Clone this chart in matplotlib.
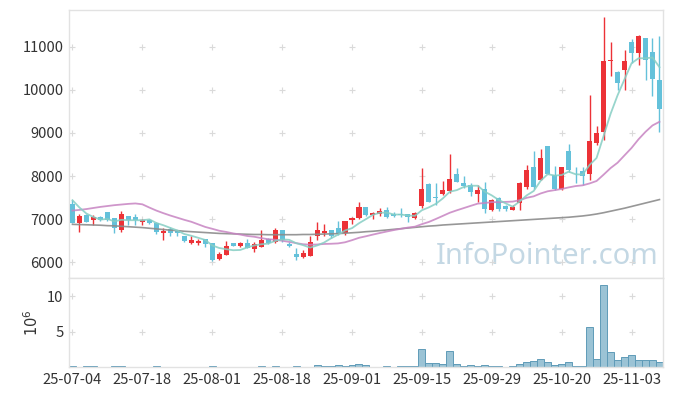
import matplotlib
matplotlib.use('Agg')
import matplotlib.pyplot as plt
import numpy as np

plt.rcParams['font.family'] = ['Noto Sans CJK KR', 'DejaVu Sans']

# daily OHLC (KRW), one row per trading day
opens = [7350, 6910, 7090, 6980, 7040, 7160, 7020, 6740, 7070, 7040,
         6940, 6990, 6920, 6680, 6770, 6730, 6610, 6440, 6450, 6530,
         6440, 6070, 6180, 6450, 6380, 6450, 6320, 6360, 6530, 6470,
         6740, 6420, 6190, 6120, 6150, 6610, 6680, 6740, 6800, 6670,
         6980, 7030, 7290, 7100, 7130, 7210, 7120, 7110, 7120, 7030,
         7300, 7810, 7510, 7580, 7660, 8050, 7850, 7790, 7580, 7690,
         7210, 7500, 7300, 7220, 7370, 7750, 8200, 7910, 8690, 8020,
         7690, 8580, 8150, 8110, 8040, 8760, 9030, 10660, 10410, 10450,
         11110, 10860, 11210, 10880, 10230]
highs = [7440, 7120, 7120, 7090, 7070, 7170, 7030, 7190, 7080, 7110,
         7000, 7000, 6930, 6790, 6810, 6740, 6620, 6600, 6540, 6540,
         6450, 6240, 6490, 6450, 6470, 6550, 6470, 6740, 6570, 6790,
         6750, 6470, 6340, 6290, 6620, 6940, 6880, 6760, 6960, 6960,
         7040, 7400, 7290, 7170, 7250, 7290, 7170, 7250, 7120, 7170,
         8180, 7830, 7830, 7890, 8510, 8180, 7990, 7830, 7790, 7870,
         7460, 7510, 7330, 7330, 7870, 8260, 8570, 8620, 8690, 8230,
         8210, 8750, 8220, 8220, 9880, 9160, 11700, 11120, 10430, 10920,
         11190, 11280, 11210, 11210, 11240]
lows = [6900, 6710, 6930, 6860, 6960, 6960, 6690, 6700, 6860, 6860,
        6860, 6890, 6650, 6510, 6620, 6620, 6480, 6430, 6410, 6360,
        6020, 6060, 6170, 6370, 6350, 6330, 6250, 6350, 6420, 6440,
        6460, 6350, 6050, 6110, 6140, 6510, 6600, 6560, 6630, 6630,
        6880, 7010, 7080, 7010, 7070, 7020, 7040, 7060, 6940, 7000,
        7250, 7400, 7330, 7560, 7600, 7860, 7720, 7540, 7400, 7150,
        7190, 7200, 7200, 7210, 7220, 7690, 7690, 7900, 8040, 7680,
        7680, 8100, 7830, 7800, 7900, 8720, 8840, 10330, 9990, 10000,
        10630, 10580, 10230, 9850, 9030]
closes = [6910, 7080, 6940, 7040, 6980, 6990, 6790, 7130, 6990, 6980,
          6980, 6900, 6710, 6730, 6670, 6680, 6490, 6510, 6490, 6420,
          6050, 6190, 6370, 6370, 6450, 6340, 6420, 6510, 6450, 6760,
          6510, 6380, 6120, 6220, 6470, 6760, 6720, 6610, 6650, 6950,
          7030, 7290, 7090, 7150, 7190, 7040, 7070, 7090, 7040, 7150,
          7690, 7400, 7500, 7670, 7930, 7870, 7770, 7640, 7670, 7240,
          7440, 7240, 7240, 7290, 7850, 8140, 7750, 8430, 8050, 7690,
          8200, 8140, 8130, 8010, 8810, 9010, 10680, 10700, 10160, 10680,
          10860, 11260, 10700, 10250, 9550]

# volume in millions of shares
volume = [0.15, 0.01, 0.12, 0.12, 0.01, 0.01, 0.12, 0.12, 0.01, 0.01,
          0.01, 0.01, 0.12, 0.01, 0.01, 0.01, 0.01, 0.01, 0.01, 0.01,
          0.12, 0.01, 0.01, 0.01, 0.01, 0.01, 0.01, 0.12, 0.01, 0.12,
          0.01, 0.01, 0.12, 0.01, 0.01, 0.25, 0.12, 0.12, 0.29, 0.14,
          0.29, 0.43, 0.29, 0.01, 0.01, 0.14, 0.01, 0.14, 0.14, 0.14,
          2.57, 0.57, 0.57, 0.43, 2.29, 0.43, 0.14, 0.29, 0.14, 0.29,
          0.14, 0.14, 0.01, 0.14, 0.43, 0.71, 0.90, 1.14, 0.71, 0.29,
          0.43, 0.71, 0.14, 0.14, 5.71, 1.14, 11.6, 2.14, 1.00, 1.43,
          1.71, 1.00, 1.00, 1.00, 0.71]

# moving averages as drawn on the chart
ma5 = [7440, 7270, 7130, 7050, 6990, 7006, 6948, 6986, 6976, 6976,
       6974, 6996, 6912, 6860, 6798, 6738, 6656, 6616, 6568, 6518,
       6392, 6332, 6304, 6280, 6286, 6344, 6390, 6418, 6434, 6496,
       6530, 6522, 6444, 6398, 6340, 6390, 6458, 6556, 6642, 6738,
       6792, 6906, 7002, 7102, 7150, 7152, 7108, 7108, 7086, 7078,
       7208, 7274, 7356, 7482, 7638, 7674, 7748, 7776, 7776, 7638,
       7552, 7446, 7366, 7290, 7412, 7552, 7654, 7892, 8044, 8012,
       8024, 8102, 8042, 8034, 8258, 8420, 8928, 9442, 9872, 10246,
       10616, 10732, 10732, 10750, 10526]
ma20 = [7200, 7215, 7235, 7260, 7285, 7305, 7325, 7340, 7355, 7365,
        7345, 7270, 7200, 7140, 7085, 7035, 6985, 6940, 6880, 6820,
        6777, 6732, 6704, 6670, 6644, 6611, 6593, 6562, 6535, 6524,
        6500, 6474, 6445, 6419, 6409, 6413, 6425, 6430, 6438, 6464,
        6513, 6568, 6604, 6643, 6680, 6715, 6748, 6777, 6806, 6826,
        6885, 6936, 7005, 7077, 7150, 7206, 7258, 7310, 7361, 7375,
        7396, 7393, 7401, 7408, 7441, 7496, 7530, 7597, 7647, 7674,
        7700, 7737, 7768, 7785, 7829, 7886, 8032, 8185, 8309, 8481,
        8652, 8853, 9026, 9174, 9259]
ma60 = [6880, 6875, 6870, 6865, 6860, 6850, 6845, 6835, 6825, 6815,
        6805, 6790, 6775, 6760, 6745, 6735, 6720, 6710, 6700, 6690,
        6680, 6670, 6665, 6660, 6655, 6650, 6645, 6645, 6640, 6640,
        6640, 6640, 6640, 6645, 6645, 6650, 6655, 6660, 6665, 6675,
        6685, 6695, 6710, 6720, 6735, 6750, 6765, 6780, 6795, 6810,
        6825, 6840, 6850, 6865, 6875, 6885, 6895, 6905, 6915, 6925,
        6935, 6945, 6955, 6965, 6975, 6985, 6995, 7005, 7015, 7025,
        7035, 7045, 7060, 7075, 7095, 7120, 7150, 7185, 7220, 7255,
        7295, 7335, 7375, 7415, 7455]

tick_pos = [0, 10, 20, 30, 40, 50, 60, 70, 80]
tick_labels = ['25-07-04', '25-07-18', '25-08-01', '25-08-18', '25-09-01',
               '25-09-15', '25-09-29', '25-10-20', '25-11-03']
price_ticks = [6000, 7000, 8000, 9000, 10000, 11000]
vol_ticks = [5, 10]

up_col = '#ec3237'
down_col = '#64c1da'
frame_col = '#e2e2e2'
text_col = '#333333'

x = np.arange(len(closes))
o = np.array(opens)
c = np.array(closes)
colors = [up_col if cc >= oo else down_col for oo, cc in zip(o, c)]

fig = plt.figure(figsize=(6.73, 3.96), dpi=100)
ax = fig.add_axes([0.1025, 0.298, 0.8826, 0.677])
axv = fig.add_axes([0.1025, 0.0732, 0.8826, 0.2248], sharex=ax)

# watermark
ax.text(0.805, 0.08, 'InfoPointer.com', transform=ax.transAxes, fontsize=21,
        color='#c4d8e4', ha='center', va='center', family='Noto Sans', zorder=0)

# grid crosses
gx, gy = np.meshgrid(tick_pos, price_ticks)
ax.scatter(gx.ravel(), gy.ravel(), marker='+', s=14, color='#dadada', lw=0.8, zorder=1)
gx, gy = np.meshgrid(tick_pos, vol_ticks)
axv.scatter(gx.ravel(), gy.ravel(), marker='+', s=14, color='#dadada', lw=0.8, zorder=1)

# candles
ax.vlines(x, lows, highs, colors=colors, lw=1, zorder=2)
body = np.maximum(np.abs(c - o), 12)
ax.bar(x, body, bottom=np.minimum(o, c), width=0.72, color=colors, zorder=3)

# moving averages
ax.plot(x, ma60, color='#8c8c8c', lw=1.2, alpha=0.9, zorder=4)
ax.plot(x, ma20, color='#c784c2', lw=1.3, alpha=0.85, zorder=4)
ax.plot(x, ma5, color='#86cec4', lw=1.3, alpha=0.85, zorder=4)

ax.set_ylim(5636, 11854)
ax.set_yticks(price_ticks)
ax.set_yticklabels([str(t) for t in price_ticks])
ax.tick_params(axis='x', labelbottom=False, length=0)

# volume
axv.bar(x, volume, width=1.0, color='#9bc3d5', edgecolor='#5f9bb8', lw=0.7, zorder=2)
axv.set_ylim(0, 12.6)
axv.set_yticks(vol_ticks)
axv.set_yticklabels([str(t) for t in vol_ticks])
axv.set_ylabel('$10^6$', color=text_col, fontsize=10.5, labelpad=4)

axv.set_xlim(-0.5, len(closes) - 0.5)
axv.set_xticks(tick_pos)
axv.set_xticklabels(tick_labels)

for a in (ax, axv):
    a.tick_params(length=0, colors=text_col, labelsize=10.6, pad=4)
    for s in a.spines.values():
        s.set_color(frame_col)
        s.set_linewidth(1)
    a.set_facecolor('white')

plt.savefig('out.png', dpi=100)
